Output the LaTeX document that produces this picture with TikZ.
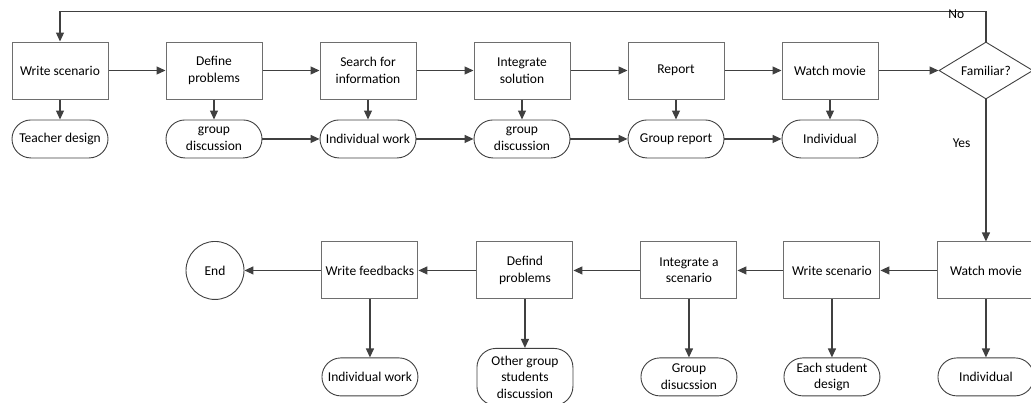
\documentclass[tikz,border=0pt]{standalone}
\usepackage{fontspec}
\setmainfont{Carlito}
\usetikzlibrary{positioning, arrows.meta, shapes.geometric}
\definecolor{edge}{HTML}{404040}
\definecolor{frame}{HTML}{6E6E6E}
\tikzset{
  stepbox/.style = {rectangle, draw=frame, line width=1pt, fill=white,
                    minimum width=96pt, minimum height=57pt, inner sep=1pt,
                    align=center, font=\fontsize{13.5}{16.5}\selectfont},
  term/.style    = {rectangle, rounded corners=19pt, draw=edge, line width=0.9pt,
                    fill=white, minimum width=96pt, minimum height=38pt, inner sep=1pt,
                    align=center, font=\fontsize{13.5}{16.5}\selectfont},
  ask/.style     = {diamond, draw=edge, line width=0.9pt, fill=white, aspect=1.65,
                    minimum width=94pt, minimum height=57pt, inner sep=0pt,
                    font=\fontsize{13.5}{16.5}\selectfont},
  stop/.style    = {circle, draw=edge, line width=0.9pt, fill=white,
                    minimum size=58pt, inner sep=0pt,
                    font=\fontsize{13.5}{16.5}\selectfont},
  lab/.style     = {inner sep=0pt, font=\fontsize{13.5}{16.5}\selectfont},
  arr/.style     = {-{Triangle[length=9pt,width=8pt]}, line width=1.2pt, draw=edge},
}

\begin{document}
\begin{tikzpicture}[x=1pt, y=1pt]
  \useasboundingbox (0,0) rectangle (1031,-402);

  % first pass
  \node[stepbox] (s1) at (60,-70.5) {Write scenario};
  \node[stepbox, right=57pt of s1] (s2) {Define\\problems};
  \node[stepbox, right=57pt of s2] (s3) {Search for\\information};
  \node[stepbox, right=57pt of s3] (s4) {Integrate\\solution};
  \node[stepbox, right=57pt of s4] (s5) {Report};
  \node[stepbox, right=57pt of s5] (s6) {Watch movie};
  \node[ask, right=60pt of s6] (fam) {Familiar?};

  \node[term, below=20pt of s1] (t1) {Teacher design};
  \node[term, below=20pt of s2] (t2) {group\\discussion};
  \node[term, below=20pt of s3] (t3) {Individual work};
  \node[term, below=20pt of s4] (t4) {group\\discussion};
  \node[term, below=20pt of s5] (t5) {Group report};
  \node[term, below=20pt of s6] (t6) {Individual};

  \foreach \i/\j in {s1/s2, s2/s3, s3/s4, s4/s5, s5/s6, s6/fam, t2/t3, t3/t4, t4/t5, t5/t6}
    \draw[arr] (\i) -- (\j);
  \foreach \i in {1,...,6}
    \draw[arr] (s\i) -- (t\i);

  \draw[arr] (fam.north) -- ++(0,30) -| node[lab, pos=0.016, yshift=-3pt] {No} (s1.north);

  % second pass
  \node[stepbox, below=142pt of fam] (b1) {Watch movie};
  \node[stepbox, left=57pt of b1] (b2) {Write scenario};
  \node[stepbox, left=46pt of b2] (b3) {Integrate a\\scenario};
  \node[stepbox, left=67pt of b3] (b4) {Defind\\problems};
  \node[stepbox, left=58pt of b4] (b5) {Write feedbacks};
  \node[stop, left=77pt of b5] (fin) {End};

  \node[term, below=58pt of b1] (u1) {Individual};
  \node[term, below=58pt of b2] (u2) {Each student\\design};
  \node[term, below=58pt of b3] (u3) {Group\\disucssion};
  \node[term, minimum height=57pt] (u4) at (b4 |- u3) {Other group\\students\\discussion};
  \node[term, below=58pt of b5] (u5) {Individual work};

  \draw[arr] (fam.south) -- node[lab, pos=0.31, left=15pt] {Yes} (b1.north);
  \foreach \i/\j in {b1/b2, b2/b3, b3/b4, b4/b5, b5/fin}
    \draw[arr] (\i) -- (\j);
  \foreach \i in {1,...,5}
    \draw[arr] (b\i) -- (u\i);
\end{tikzpicture}
\end{document}
